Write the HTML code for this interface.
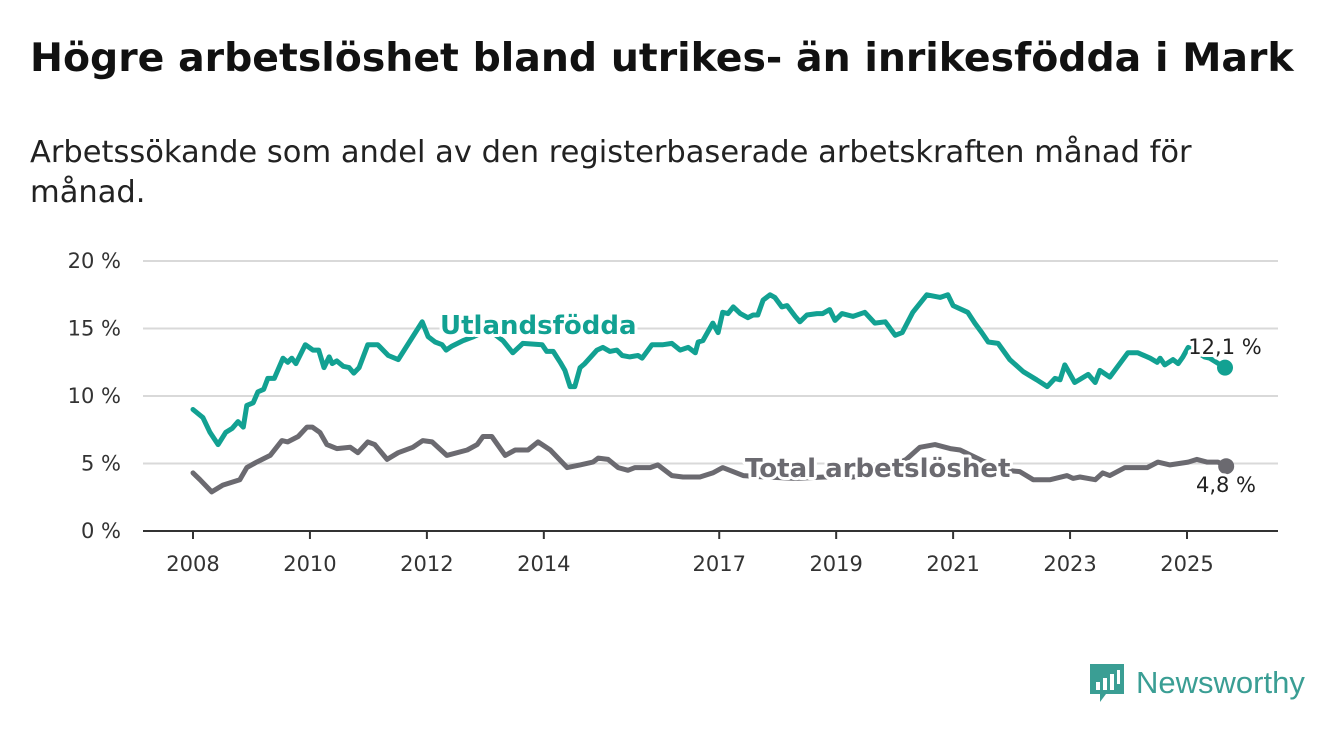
<!DOCTYPE html>
<html><head><meta charset="utf-8"><style>
body{margin:0;background:#fff;width:1340px;height:734px;overflow:hidden;font-family:"DejaVu Sans","Liberation Sans",sans-serif}
.t{position:absolute;left:30px;top:35px;font-size:39.4px;font-weight:bold;color:#111;white-space:nowrap}
.s{position:absolute;left:30px;top:133px;font-size:30.5px;line-height:40px;color:#222;width:1280px}
svg{position:absolute;left:0;top:0}
</style></head><body>
<div class="t">Högre arbetslöshet bland utrikes- än inrikesfödda i Mark</div>
<div class="s">Arbetssökande som andel av den registerbaserade arbetskraften månad för<br>månad.</div>
<svg id="c" width="1340" height="734"></svg>
<script>
const yTicks=[0,5,10,15,20];
const xTicks=[2008,2010,2012,2014,2017,2019,2021,2023,2025];
const utlYears=[2008.00,2008.17,2008.29,2008.43,2008.56,2008.67,2008.77,2008.86,2008.92,2009.03,2009.11,2009.21,2009.28,2009.39,2009.54,2009.62,2009.69,2009.76,2009.92,2010.05,2010.15,2010.24,2010.33,2010.38,2010.46,2010.57,2010.67,2010.75,2010.84,2010.99,2011.16,2011.34,2011.51,2011.76,2011.92,2012.02,2012.14,2012.26,2012.33,2012.43,2012.62,2012.8,2013.0,2013.15,2013.30,2013.47,2013.64,2013.97,2014.05,2014.16,2014.28,2014.36,2014.45,2014.53,2014.62,2014.70,2014.91,2015.01,2015.13,2015.25,2015.34,2015.47,2015.61,2015.68,2015.85,2016.04,2016.19,2016.33,2016.47,2016.59,2016.64,2016.72,2016.89,2016.98,2017.06,2017.15,2017.24,2017.36,2017.49,2017.58,2017.66,2017.75,2017.87,2017.95,2018.07,2018.16,2018.30,2018.38,2018.50,2018.67,2018.77,2018.89,2018.98,2019.10,2019.29,2019.49,2019.66,2019.84,2020.01,2020.13,2020.31,2020.55,2020.78,2020.91,2021.00,2021.25,2021.37,2021.49,2021.60,2021.77,2021.97,2022.20,2022.43,2022.61,2022.74,2022.83,2022.91,2023.08,2023.31,2023.43,2023.51,2023.68,2023.99,2024.16,2024.37,2024.49,2024.54,2024.62,2024.76,2024.85,2024.93,2025.02,2025.15,2025.30,2025.39,2025.65];
const utlValues=[9.0,8.4,7.3,6.4,7.3,7.6,8.1,7.7,9.3,9.5,10.3,10.5,11.3,11.3,12.8,12.5,12.8,12.4,13.8,13.4,13.4,12.1,12.9,12.4,12.6,12.2,12.1,11.7,12.1,13.8,13.8,13.0,12.7,14.4,15.5,14.4,14.0,13.8,13.4,13.7,14.1,14.4,14.8,14.6,14.1,13.2,13.9,13.8,13.3,13.3,12.5,11.9,10.7,10.7,12.1,12.4,13.4,13.6,13.3,13.4,13.0,12.9,13.0,12.8,13.8,13.8,13.9,13.4,13.6,13.2,14.0,14.1,15.4,14.7,16.2,16.1,16.6,16.1,15.8,16.0,16.0,17.1,17.5,17.3,16.6,16.7,15.9,15.5,16.0,16.1,16.1,16.4,15.6,16.1,15.9,16.2,15.4,15.5,14.5,14.7,16.2,17.5,17.3,17.5,16.7,16.2,15.4,14.7,14.0,13.9,12.7,11.8,11.2,10.7,11.3,11.2,12.3,11.0,11.6,11.0,11.9,11.4,13.2,13.2,12.8,12.5,12.8,12.3,12.7,12.4,12.9,13.6,13.3,12.9,12.8,12.1];
const totYears=[2008.00,2008.12,2008.32,2008.51,2008.80,2008.92,2009.09,2009.32,2009.52,2009.62,2009.80,2009.95,2010.04,2010.17,2010.29,2010.46,2010.69,2010.82,2010.99,2011.11,2011.32,2011.51,2011.76,2011.93,2012.09,2012.34,2012.69,2012.86,2012.96,2013.11,2013.34,2013.51,2013.73,2013.90,2014.11,2014.40,2014.62,2014.84,2014.93,2015.10,2015.27,2015.44,2015.56,2015.82,2015.95,2016.19,2016.38,2016.67,2016.89,2017.06,2017.18,2017.41,2017.8,2018.3,2018.8,2019.3,2019.8,2020.2,2020.43,2020.69,2020.95,2021.12,2021.5,2021.9,2022.14,2022.37,2022.66,2022.95,2023.05,2023.17,2023.43,2023.56,2023.68,2023.94,2024.32,2024.50,2024.71,2025.02,2025.17,2025.34,2025.53,2025.67];
const totValues=[4.3,3.8,2.9,3.4,3.8,4.7,5.1,5.6,6.7,6.6,7.0,7.7,7.7,7.3,6.4,6.1,6.2,5.8,6.6,6.4,5.3,5.8,6.2,6.7,6.6,5.6,6.0,6.4,7.0,7.0,5.6,6.0,6.0,6.6,6.0,4.7,4.9,5.1,5.4,5.3,4.7,4.5,4.7,4.7,4.9,4.1,4.0,4.0,4.3,4.7,4.5,4.1,4.0,3.9,4.0,4.0,4.5,5.3,6.2,6.4,6.1,6.0,5.2,4.5,4.4,3.8,3.8,4.1,3.9,4.0,3.8,4.3,4.1,4.7,4.7,5.1,4.9,5.1,5.3,5.1,5.1,4.8];
const endLabels=["12,1 %","4,8 %"];
const NS="http://www.w3.org/2000/svg";
const svg=document.getElementById('c');
const X=y=>193+(y-2008)*(1187-193)/17;
const Y=v=>531-v*13.5;
function mk(t,a){const e=document.createElementNS(NS,t);for(const k in a)e.setAttribute(k,a[k]);svg.appendChild(e);return e;}
yTicks.forEach(v=>{
 const g=mk('line',{x1:143,x2:1278,y1:Y(v),y2:Y(v),stroke:v===0?'#333':'#d9d9d9','stroke-width':2});
 
 
 const t=mk('text',{x:121,y:Y(v)+7,'text-anchor':'end','font-size':21,fill:'#333'});
 t.textContent=v+' %';
 
 
});
xTicks.forEach(yr=>{
 const l=mk('line',{x1:X(yr),x2:X(yr),y1:531,y2:539,stroke:'#333','stroke-width':2});
 
 
 const t=mk('text',{x:X(yr),y:571,'text-anchor':'middle','font-size':21,fill:'#333'});
 t.textContent=yr;
 
 
});
function line(xs,vs,col,name){
 const d=xs.map((x,i)=>(i?'L':'M')+X(x).toFixed(1)+','+Y(vs[i]).toFixed(1)).join('');
 const p=mk('path',{d:d,fill:'none',stroke:col,'stroke-width':5,'stroke-linejoin':'round','stroke-linecap':'round'});
 
 
 const c=mk('circle',{cx:X(xs[xs.length-1]),cy:Y(vs[vs.length-1]),r:8,fill:col});
 
 
}
line(totYears,totValues,'#6b6a70','total-line');
line(utlYears,utlValues,'#12a192','utlandsfodda-line');
function lbl(x,y,txt,col,size,w,anchor,name){
 const t=mk('text',{x:x,y:y,fill:col,'font-size':size,'font-weight':w,'text-anchor':anchor,stroke:'#fff','stroke-width':6,'paint-order':'stroke','stroke-linejoin':'round'});
 t.textContent=txt;
 
 
}
lbl(440,334,'Utlandsfödda','#12a192',26,'bold','start','utlandsfodda-label');
lbl(745,477,'Total arbetslöshet','#6b6a70',26,'bold','start','total-label');
lbl(1225,354,endLabels[0],'#222',21,'normal','middle','utlandsfodda-end-value');
lbl(1226,492,endLabels[1],'#222',21,'normal','middle','total-end-value');
</script>
<div style="position:absolute;left:1088px;top:662px;display:flex;align-items:center">
<svg width="38" height="42" style="position:static"><path d="M2 2h34v30H18l-6 8v-8H2z" fill="#3a9e94"/><rect x="8" y="20" width="4" height="8" fill="#fff"/><rect x="15" y="16" width="4" height="12" fill="#fff"/><rect x="22" y="12" width="4" height="16" fill="#fff"/><rect x="29" y="8" width="3" height="14" fill="#fff"/></svg>
<span style="font-family:'Liberation Sans',sans-serif;font-size:31px;color:#3a9e94;margin-left:10px">Newsworthy</span></div>
</body></html>
